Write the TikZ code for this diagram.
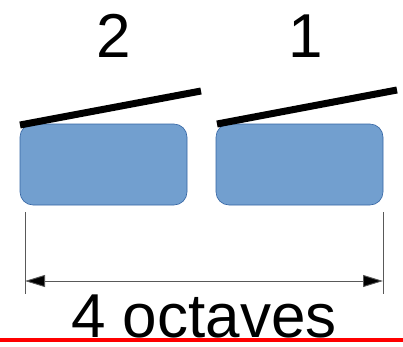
\documentclass[tikz,border=0pt]{standalone}
\usepackage{fontspec}
\setmainfont{Liberation Sans}
\usetikzlibrary{arrows.meta}

\tikzset{
  keybox/.style={rectangle,rounded corners=13pt,draw=blue!60!black!80,fill=blue!45!cyan!35!gray!80,
    line width=0.6pt,minimum width=167pt,minimum height=81pt,inner sep=0pt},
  lid/.style={line width=7pt},
  big/.style={font=\fontsize{62}{62}\selectfont,inner sep=0pt}
}
\definecolor{boxfill}{HTML}{729FCF}
\definecolor{boxline}{HTML}{3465A4}

\begin{document}
\begin{tikzpicture}[x=1pt,y=-1pt]
\useasboundingbox (0,0) rectangle (403,346);
\node [keybox,fill=boxfill,draw=boxline] (left) at (103.5,164.5) {};
\node [keybox,fill=boxfill,draw=boxline] (right) at (299.5,164.5) {};
\node [big,anchor=base] (two) at (114,57) {2};
\node [big,anchor=base] (one) at (306,57) {1};
% slanted lines over the boxes
\coordinate (a1) at (20,125);
\coordinate (a2) at (201,91);
\coordinate (b1) at (217,124);
\coordinate (b2) at (397,90);
\draw [lid] (a1) -- (a2);
\draw [lid] (b1) -- (b2);
% dimension
\coordinate (l1) at (25,212);
\coordinate (l2) at (25,294);
\coordinate (r1) at (383,212);
\coordinate (r2) at (383,294);
\draw [gray!70!black,line width=0.8pt] (l1) -- (l2);
\draw [gray!70!black,line width=0.8pt] (r1) -- (r2);
\coordinate (pl) at (25,281);
\coordinate (pr) at (383,281);
\draw [gray!70!black,line width=0.9pt,{Triangle[length=20pt,width=12pt,fill=black]}-{Triangle[length=20pt,width=12pt,fill=black]}] (pl) -- (pr);
\node [big,anchor=base] (span) at (204,337) {4 octaves};
\coordinate (e1) at (0,339.5);
\coordinate (e2) at (403,339.5);
\draw [red,line width=4pt] (e1) -- (e2);
\end{tikzpicture}
\end{document}
